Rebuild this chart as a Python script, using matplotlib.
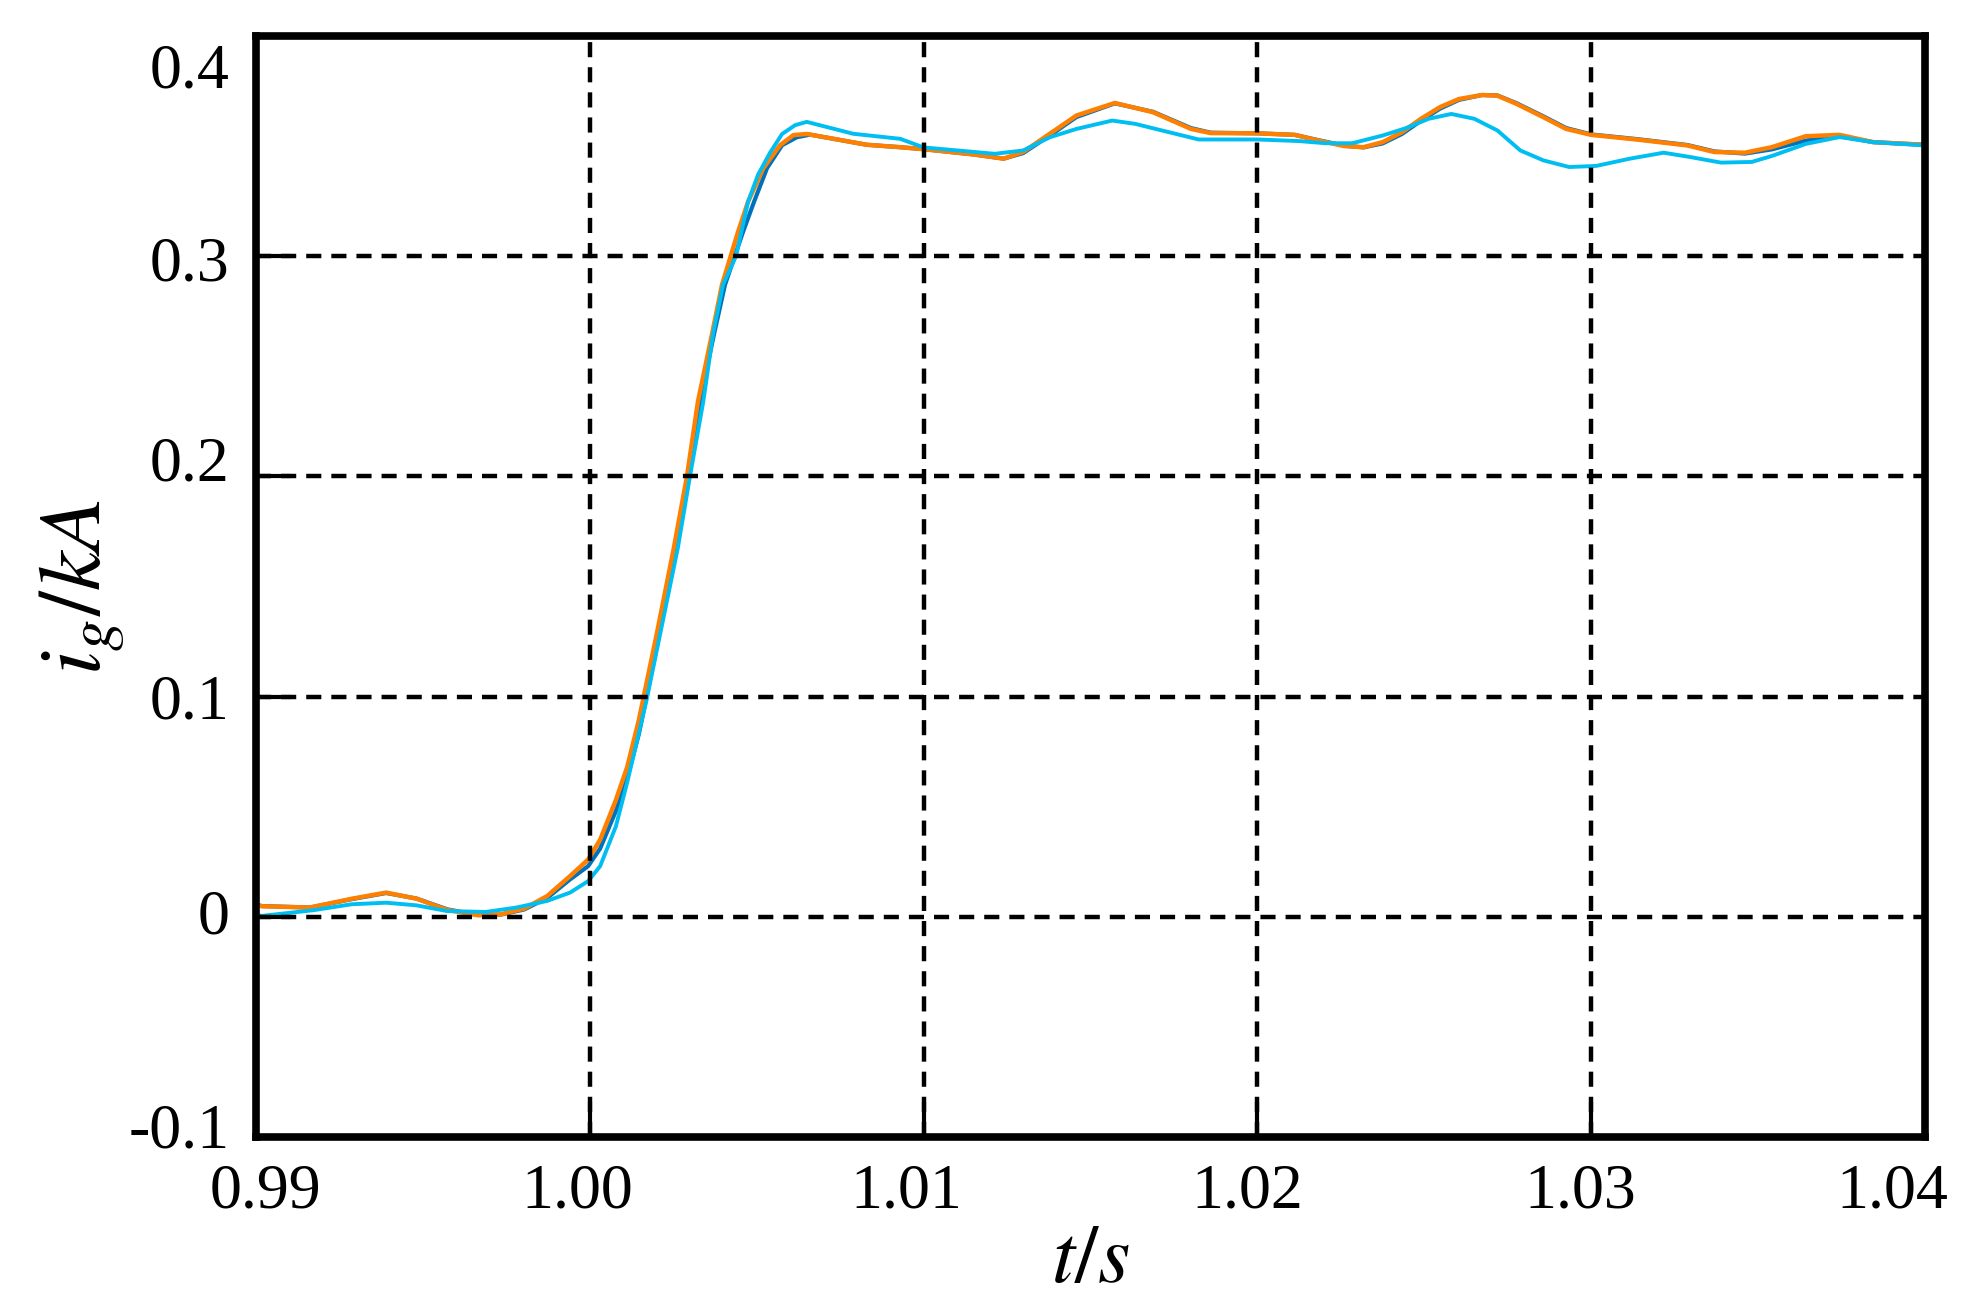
import numpy as np
import matplotlib
matplotlib.use("Agg")
import matplotlib.pyplot as plt
from matplotlib.transforms import ScaledTranslation

# ---------------- data ----------------
t_orange = [0.99, 0.99017, 0.99161, 0.99287, 0.9939, 0.99481, 0.99573, 0.99665, 0.99734,
            0.99803, 0.99872, 0.99941, 0.99995, 1.00031, 1.00078, 1.00112, 1.00147, 1.002,
            1.00252, 1.00291, 1.00324, 1.00366, 1.00396, 1.00444, 1.00474, 1.0052, 1.0057,
            1.0061, 1.0065, 1.0083, 1.0093, 1.01, 1.0115, 1.0124, 1.01298, 1.01378, 1.01458,
            1.01573, 1.01687, 1.01801, 1.0186, 1.02, 1.02112, 1.0218, 1.02261, 1.02318,
            1.02375, 1.02433, 1.0249, 1.02547, 1.02604, 1.02673, 1.02719, 1.02776, 1.02857,
            1.02925, 1.03, 1.03136, 1.03288, 1.03369, 1.0346, 1.03541, 1.03643, 1.03744,
            1.03845, 1.04]
i_orange = [0.0055, 0.0048, 0.0042, 0.0082, 0.011, 0.0082, 0.0031, 0.0007, 0.0011,
            0.0037, 0.0094, 0.0185, 0.026, 0.035, 0.053, 0.068, 0.0894, 0.128,
            0.1677, 0.2, 0.234, 0.2645, 0.287, 0.311, 0.3247, 0.34, 0.3504,
            0.355, 0.3555, 0.3506, 0.3495, 0.3486, 0.3462, 0.3443, 0.3473, 0.3556, 0.3639,
            0.3696, 0.3654, 0.3578, 0.3559, 0.3558, 0.3551, 0.3526, 0.35, 0.3495,
            0.3518, 0.3563, 0.3624, 0.3677, 0.3714, 0.3732, 0.3729, 0.3692, 0.3631,
            0.3578, 0.3551, 0.353, 0.3503, 0.3473, 0.347, 0.3495, 0.3545, 0.3551,
            0.3518, 0.3506]

t_blue = [0.99, 0.99017, 0.99161, 0.99287, 0.9939, 0.99481, 0.99573, 0.99665, 0.99734,
          0.99803, 0.99872, 0.99941, 0.99995, 1.00031, 1.00078, 1.00112, 1.00147, 1.002,
          1.00258, 1.00298, 1.0033, 1.00372, 1.00405, 1.00459, 1.00492, 1.00531, 1.00576,
          1.0062, 1.0066, 1.0083, 1.0093, 1.01, 1.0115, 1.0124, 1.01298, 1.01378, 1.01458,
          1.01573, 1.01687, 1.01801, 1.0186, 1.02, 1.02112, 1.0218, 1.02261, 1.02318,
          1.02375, 1.02433, 1.0249, 1.02547, 1.02604, 1.02673, 1.02719, 1.02776, 1.02857,
          1.02925, 1.03, 1.03136, 1.03288, 1.03369, 1.0346, 1.03541, 1.03643, 1.03744,
          1.03845, 1.04]
i_blue = [0.0055, 0.0049, 0.0042, 0.0080, 0.0108, 0.0083, 0.0034, 0.0008, 0.0010,
          0.0033, 0.0085, 0.017, 0.023, 0.031, 0.048, 0.063, 0.083, 0.122,
          0.1677, 0.2, 0.234, 0.2645, 0.287, 0.311, 0.3247, 0.34, 0.3504,
          0.354, 0.3552, 0.3506, 0.3495, 0.3486, 0.3462, 0.3443, 0.3468, 0.3548, 0.3632,
          0.3694, 0.3656, 0.3582, 0.3561, 0.3558, 0.3551, 0.3528, 0.3502, 0.3494,
          0.3512, 0.3555, 0.3615, 0.3670, 0.3710, 0.3732, 0.3730, 0.3695, 0.3635,
          0.3582, 0.3553, 0.3532, 0.3505, 0.3476, 0.3466, 0.3485, 0.3525, 0.3545,
          0.3518, 0.3506]

t_cyan = [0.99, 0.99017, 0.99172, 0.99287, 0.9939, 0.99481, 0.99573, 0.99688, 0.9978,
          0.99872, 0.99941, 0.99995, 1.00031, 1.00078, 1.00112, 1.00147, 1.0017, 1.00264,
          1.003, 1.0034, 1.00369, 1.00399, 1.00438, 1.00474, 1.00504, 1.0054, 1.00576,
          1.00615, 1.0065, 1.00789, 1.0093, 1.01, 1.01213, 1.01298, 1.01378, 1.01458,
          1.01565, 1.01634, 1.01714, 1.01824, 1.02, 1.02124, 1.02204, 1.02284, 1.02375,
          1.02444, 1.02513, 1.02581, 1.0265, 1.02719, 1.02788, 1.02857, 1.02934, 1.03015,
          1.03116, 1.03217, 1.03298, 1.03389, 1.03481, 1.03541, 1.03643, 1.03744, 1.03845,
          1.04]
i_cyan = [0.001, 0.0004, 0.003, 0.0057, 0.0064, 0.0052, 0.0026, 0.0022, 0.0042,
          0.0072, 0.011, 0.0162, 0.023, 0.041, 0.061, 0.0835, 0.0984, 0.1677,
          0.2, 0.234, 0.2645, 0.287, 0.3, 0.3247, 0.337, 0.347, 0.3555,
          0.3595, 0.361, 0.3556, 0.3533, 0.3494, 0.3465, 0.348, 0.354, 0.3578,
          0.3616, 0.3601, 0.3571, 0.353, 0.353, 0.3523, 0.3513, 0.3513, 0.3548,
          0.3581, 0.3624, 0.3646, 0.3624, 0.3571, 0.348, 0.3435, 0.3405, 0.341,
          0.3443, 0.347, 0.345, 0.3425, 0.3428, 0.3455, 0.351, 0.3541, 0.3518,
          0.3503]

x_ticks = [0.99, 1.00, 1.01, 1.02, 1.03, 1.04]
x_tick_labels = ["0.99", "1.00", "1.01", "1.02", "1.03", "1.04"]
y_ticks = [-0.1, 0.0, 0.1, 0.2, 0.3, 0.4]
y_tick_labels = ["-0.1", "0", "0.1", "0.2", "0.3", "0.4"]
x_label = r"$t/s$"
y_label = r"$i_g/kA$"

# small label nudges (pixels; x: +right, y: +down) seen in the reference
x_label_dx = [9, -13, -17, -10, -11, -33]
y_label_dy = [-11, -5, 0, -18, 2, 30]

# ---------------- figure ----------------
plt.rcParams["font.family"] = ["Liberation Serif", "DejaVu Serif"]
plt.rcParams["mathtext.fontset"] = "stix"

DPI = 100
fig = plt.figure(figsize=(19.79, 13.10), dpi=DPI)
ax = fig.add_axes([256 / 1979, 1 - 1137 / 1310, (1925 - 256) / 1979, (1137 - 36) / 1310])

ax.plot(t_blue, i_blue, color="#0072BD", lw=3.0, zorder=2.0, solid_joinstyle="round")
ax.plot(t_orange, i_orange, color="#FF8000", lw=3.2, zorder=2.1, solid_joinstyle="round")
ax.plot(t_cyan, i_cyan, color="#00BEF2", lw=2.8, zorder=2.2, solid_joinstyle="round")

ax.set_xlim(0.99, 1.04)
ax.set_ylim(-0.1, 0.4)
ax.set_xticks(x_ticks)
ax.set_xticklabels(x_tick_labels)
ax.set_yticks(y_ticks)
ax.set_yticklabels(y_tick_labels)

ax.set_axisbelow(False)
ax.grid(True, color="black", lw=3.2, linestyle=(0, (3.4, 2.25)), zorder=3)

ax.tick_params(axis="both", which="major", direction="in", length=25, width=3,
               labelsize=46, pad=19, color="black", top=False, right=False)
for sp in ax.spines.values():
    sp.set_linewidth(5.5)
    sp.set_zorder(5)

for lbl, dx in zip(ax.get_xticklabels(), x_label_dx):
    lbl.set_transform(lbl.get_transform() + ScaledTranslation(dx / DPI, 0, fig.dpi_scale_trans))
for lbl, dy in zip(ax.get_yticklabels(), y_label_dy):
    lbl.set_transform(lbl.get_transform() + ScaledTranslation(0, -dy / DPI, fig.dpi_scale_trans))

ax.set_xlabel(x_label, fontsize=60, labelpad=2)
ax.set_ylabel(y_label, fontsize=64, labelpad=0)

fig.savefig("out.png", dpi=DPI)
